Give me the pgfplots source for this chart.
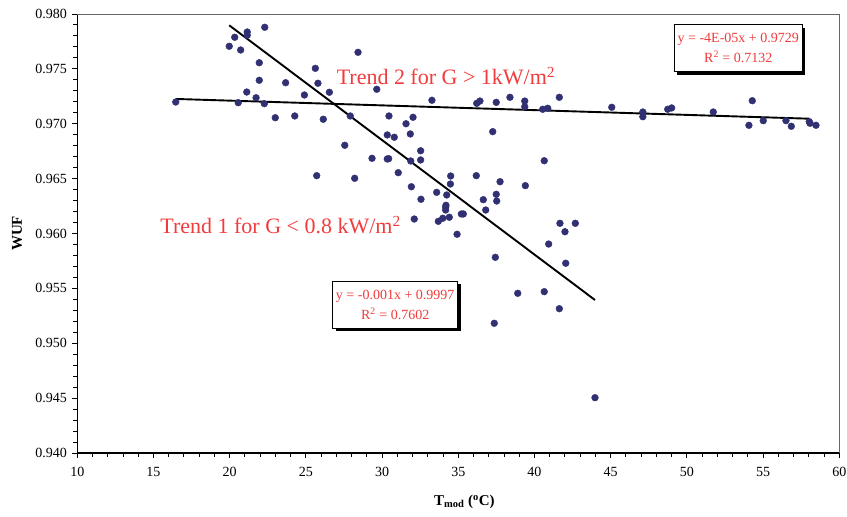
\documentclass[border=0pt]{standalone}
\usepackage{fontspec}
\setmainfont{Liberation Serif}
\usepackage{pgfplots}
\pgfplotsset{compat=1.18}
\usetikzlibrary{shadows}
\definecolor{ptcol}{RGB}{48,48,115}
\definecolor{txtred}{RGB}{240,60,60}

\begin{document}
\begin{tikzpicture}
\useasboundingbox (-77.3pt,-64pt) rectangle (769.7pt,453pt);
\begin{axis}[
  name=ax,
  at={(0,0)}, anchor=south west,
  scale only axis,
  width=762pt, height=439pt,
  xmin=10, xmax=60, ymin=0.94, ymax=0.98,
  xtick={10,15,...,60},
  ytick={0.940,0.945,0.950,0.955,0.960,0.965,0.970,0.975,0.980},
  minor x tick num=4,
  minor y tick num=4,
  tick align=outside,
  major tick length=5pt, minor tick length=4pt,
  axis x line*=bottom, axis y line*=left,
  axis line style={black, line width=1.3pt, -},
  tick style={black, line width=1pt},
  scaled y ticks=false,
  y tick label style={/pgf/number format/.cd, fixed, fixed zerofill, precision=3, /tikz/.cd, xshift=-2pt},
  x tick label style={yshift=-6pt},
  /pgf/number format/assume math mode=true,
  tick label style={font=\fontsize{14}{14}\selectfont},
  xlabel={\textbf{T\textsubscript{mod} (\textsuperscript{o}C)}},
  ylabel={\textbf{WUF}},
  xlabel style={at={(axis description cs:0.508,-0.1116)}, anchor=center, font=\fontsize{15}{15}\selectfont},
  ylabel style={at={(axis description cs:-0.079,0.5)}, anchor=center, font=\fontsize{15}{15}\selectfont},
  clip=false,
]
\draw[black!60, line width=0.9pt] (rel axis cs:0,1) -- (rel axis cs:1,1) -- (rel axis cs:1,0);

\addplot[only marks, mark=*, mark size=3.4pt, mark options={fill=ptcol, draw=ptcol}] coordinates {
(16.46,0.97198) (19.97,0.97706) (20.33,0.97788) (21.15,0.97836) (21.15,0.97806)
(22.30,0.97879) (20.72,0.97672) (21.94,0.97556) (21.94,0.97396) (21.12,0.97289)
(21.73,0.97237) (20.56,0.97192) (22.27,0.97183) (22.99,0.97055) (24.27,0.97071)
(23.67,0.97374) (24.90,0.97262) (25.62,0.97505) (25.79,0.97369) (26.54,0.97287)
(28.42,0.97651) (29.65,0.97314) (26.14,0.97041) (27.91,0.97071) (30.45,0.97071)
(30.34,0.96898) (30.80,0.96877) (27.55,0.96804) (29.34,0.96685) (30.34,0.96679)
(30.43,0.96682) (25.71,0.96527) (28.20,0.96503) (31.06,0.96554) (32.03,0.97059)
(31.57,0.97000) (31.85,0.96907) (32.53,0.96754) (31.88,0.96661) (32.53,0.96670)
(37.26,0.96928) (40.64,0.96663) (31.92,0.96426) (34.50,0.96524) (34.48,0.96451)
(36.18,0.96527) (37.74,0.96472) (39.40,0.96436) (33.58,0.96375) (34.24,0.96351)
(32.55,0.96312) (36.64,0.96308) (37.49,0.96357) (37.52,0.96296) (36.80,0.96214)
(34.19,0.96257) (34.17,0.96239) (34.17,0.96214) (32.11,0.96132) (33.69,0.96111)
(33.98,0.96139) (34.41,0.96148) (35.20,0.96178) (35.33,0.96178) (34.92,0.95993)
(40.93,0.95904) (37.43,0.95783) (38.90,0.95455) (40.64,0.95470) (37.36,0.95182)
(33.27,0.97214) (36.21,0.97186) (36.42,0.97207) (37.49,0.97195) (38.39,0.97241)
(39.36,0.97207) (39.36,0.97155) (40.54,0.97132) (40.87,0.97141) (41.63,0.97241)
(45.07,0.97150) (41.67,0.96093) (42.68,0.96093) (42.00,0.96016) (42.05,0.95729)
(41.63,0.95315) (43.97,0.94504) (47.11,0.97107) (47.11,0.97064) (48.74,0.97132)
(49.00,0.97144) (51.73,0.97107) (54.29,0.97210) (54.07,0.96986) (55.01,0.97028)
(56.50,0.97028) (56.85,0.96977) (58.03,0.97019) (58.08,0.97004) (58.47,0.96986)
};

% Trend 2 (G > 1 kW/m2)
\addplot[black, line width=1.9pt] coordinates {(16.46,0.97226) (58.03,0.97046)};
% Trend 1 (G < 0.8 kW/m2)
\addplot[black, line width=1.9pt] coordinates {(19.97,0.97897) (43.97,0.95394)};

\node[font=\fontsize{22}{22}\selectfont, text=txtred] at (axis cs:34.19,0.97435) {Trend 2 for G > 1kW/m\textsuperscript{2}};
\node[font=\fontsize{22}{22}\selectfont, text=txtred] at (axis cs:23.34,0.96077) {Trend 1 for G < 0.8 kW/m\textsuperscript{2}};

\node[draw=black, fill=white, line width=0.8pt,
      drop shadow={shadow xshift=3pt, shadow yshift=-3pt, fill=black, opacity=1},
      minimum width=125pt, minimum height=47pt, inner sep=2pt, align=center,
      text=txtred, font=\fontsize{14}{20}\selectfont]
  at (axis cs:30.86,0.95351) {y = -0.001x + 0.9997\\R\textsuperscript{2} = 0.7602};
\node[draw=black, fill=white, line width=0.8pt,
      drop shadow={shadow xshift=3pt, shadow yshift=-3pt, fill=black, opacity=1},
      minimum width=128pt, minimum height=47pt, inner sep=2pt, align=center,
      text=txtred, font=\fontsize{14}{20}\selectfont]
  at (axis cs:53.37,0.97688) {y = -4E-05x + 0.9729\\R\textsuperscript{2} = 0.7132};
\end{axis}
\end{tikzpicture}
\end{document}
